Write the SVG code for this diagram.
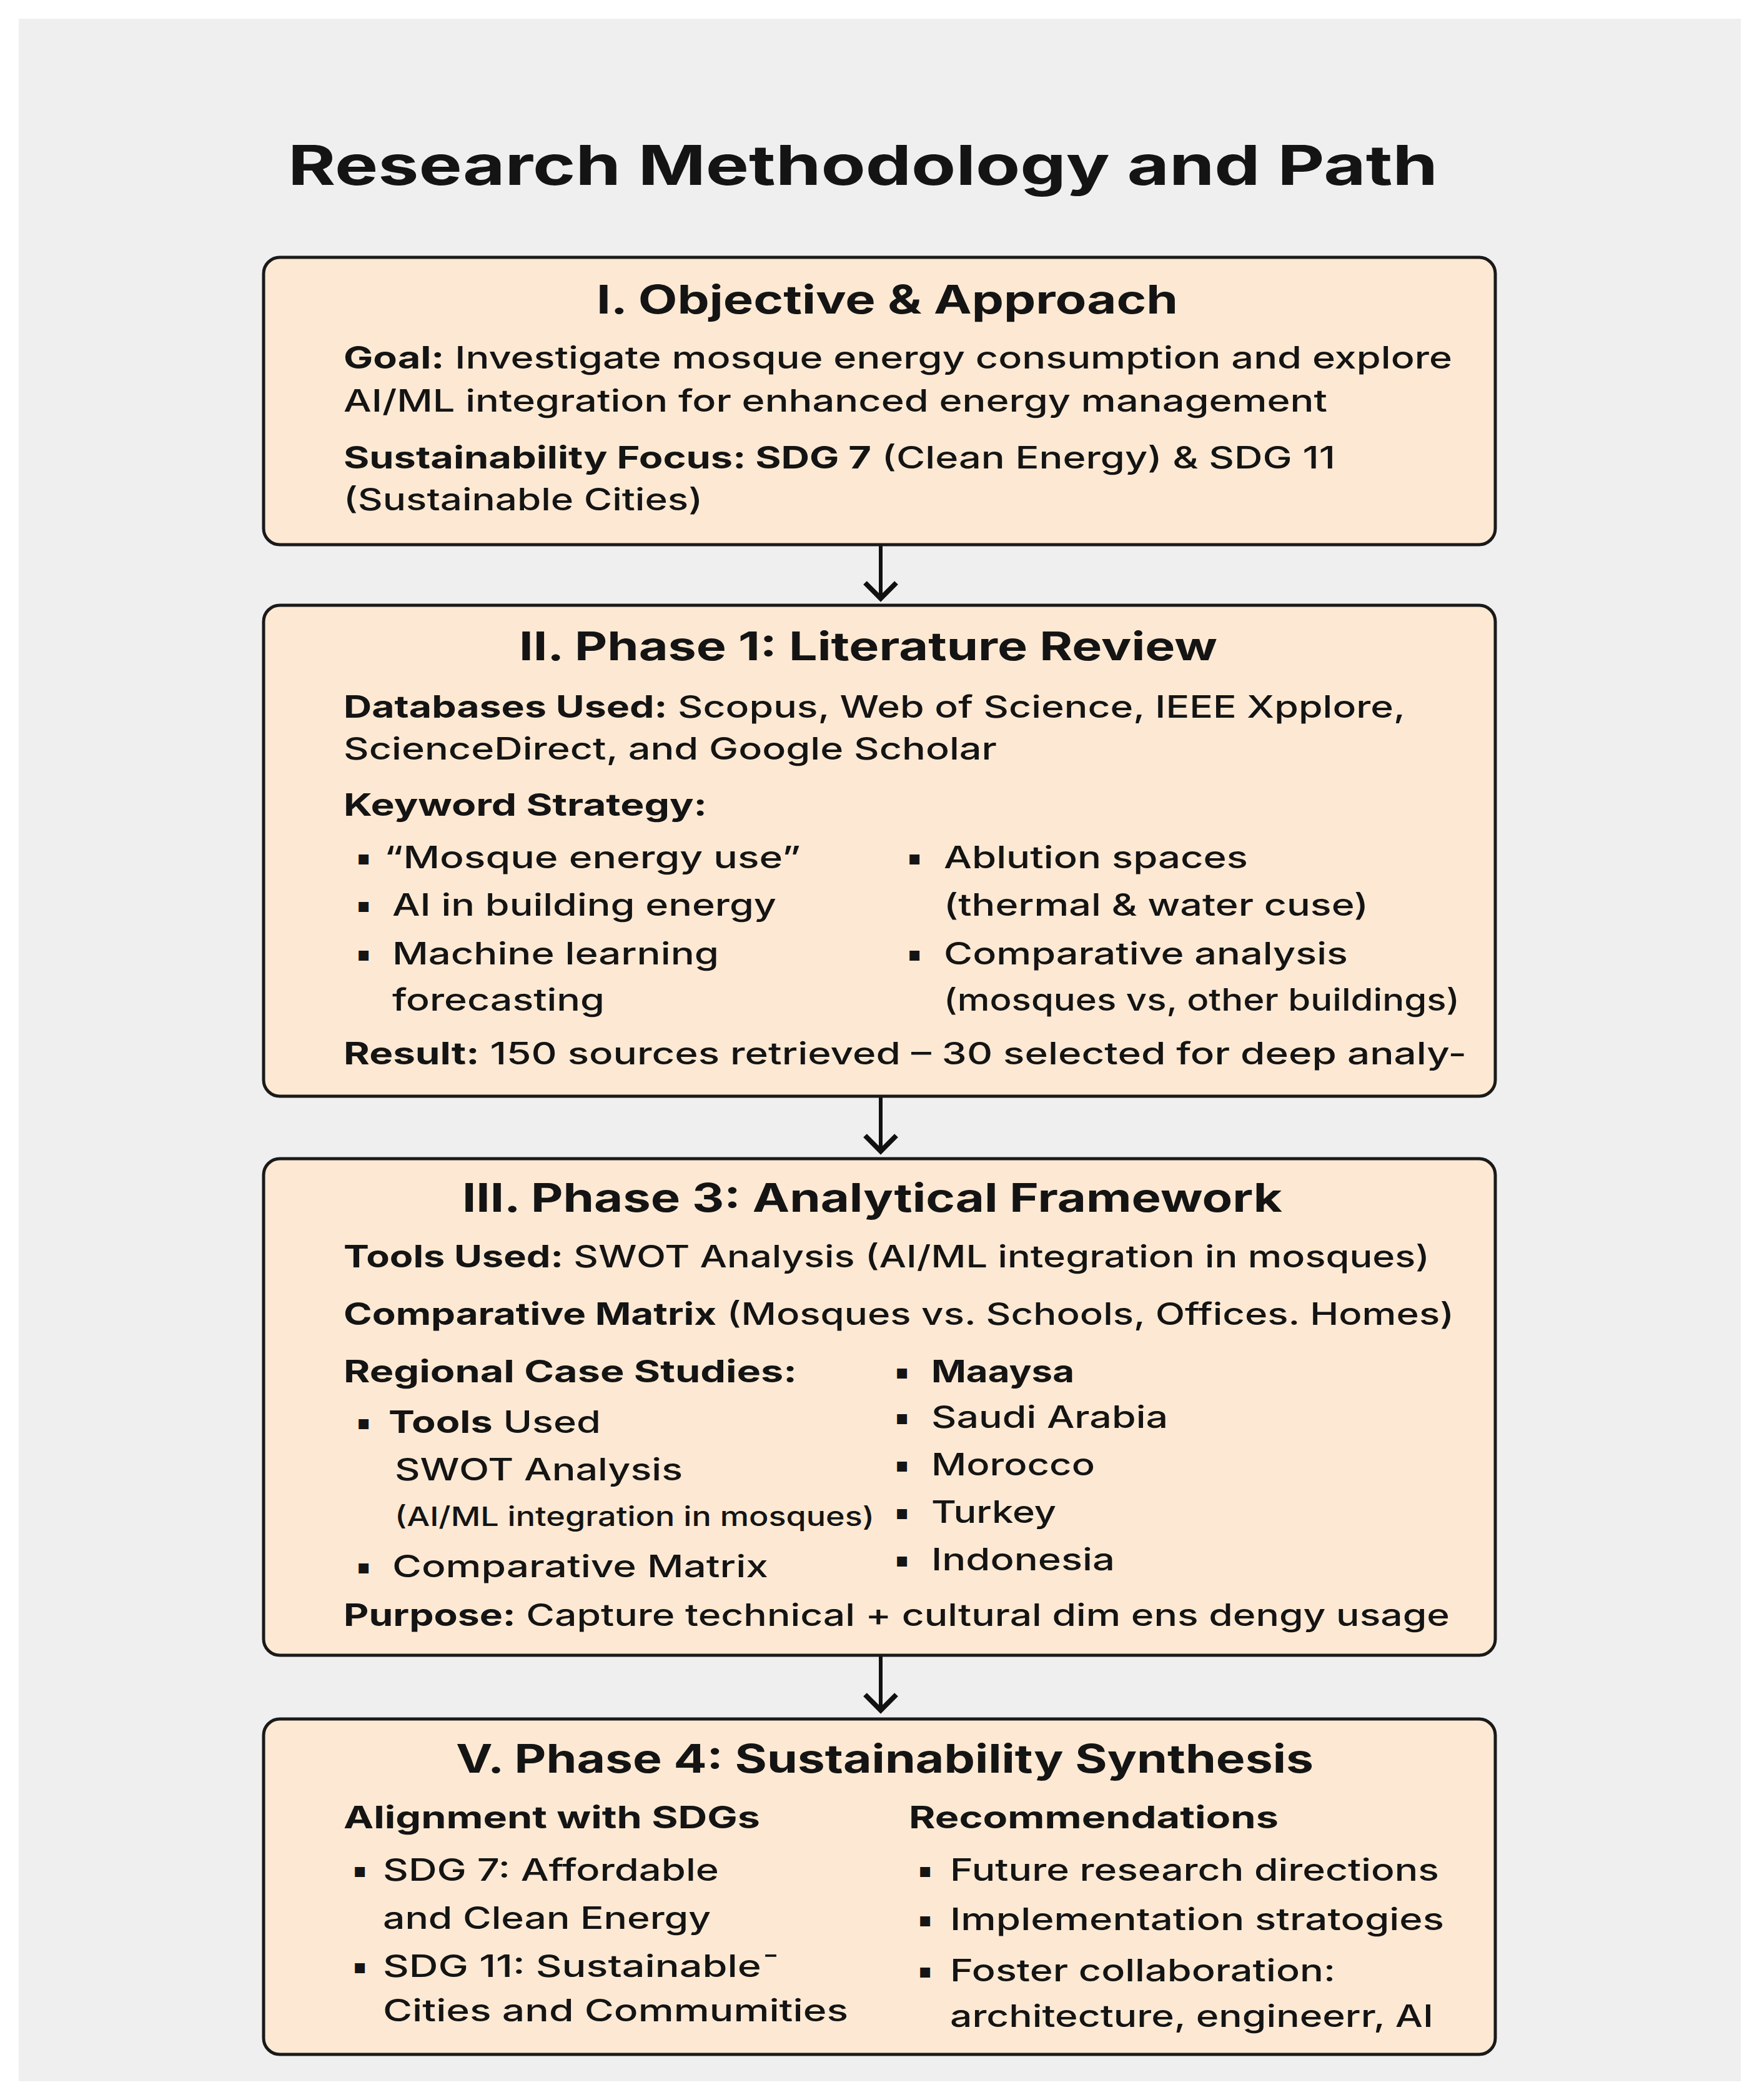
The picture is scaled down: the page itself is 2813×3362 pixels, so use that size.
<svg xmlns="http://www.w3.org/2000/svg" width="2813" height="3362" viewBox="0 0 2813 3362">
<style>
text{font-family:Inter,"Liberation Sans",sans-serif;fill:#141414;}
.t{font-size:88px;font-weight:700;}
.h{font-size:63px;font-weight:700;}
.b{font-size:49px;font-weight:500;}
.s{font-size:43px;font-weight:500;}
.k{font-weight:700;}
.bu{font-family:"DejaVu Sans",sans-serif;font-size:32px;text-anchor:middle;}
.box{fill:#fde9d3;stroke:#1a1a1a;stroke-width:5;}
.ln{stroke:#111;stroke-width:6;fill:none;}
.hd{stroke:#111;stroke-width:8;fill:none;stroke-linecap:butt;stroke-linejoin:miter;}
</style>
<rect x="0" y="0" width="2813" height="3362" fill="#ffffff"/>
<rect x="30" y="30" width="2757" height="3302" fill="#efefef"/>
<text class="t" x="461" y="296" textLength="1841" lengthAdjust="spacingAndGlyphs">Research Methodology and Path</text>

<g id="connectors">
<line class="ln" x1="1410" y1="872" x2="1410" y2="955"/>
<polyline class="hd" points="1385,933 1410,958 1435,933"/>
<line class="ln" x1="1410" y1="1755" x2="1410" y2="1840"/>
<polyline class="hd" points="1385,1818 1410,1843 1435,1818"/>
<line class="ln" x1="1410" y1="2650" x2="1410" y2="2735"/>
<polyline class="hd" points="1385,2713 1410,2738 1435,2713"/>
</g>

<g id="node-objective">
<rect class="box" x="422" y="412" width="1972" height="460" rx="26"/>
<text class="h" x="955" y="502" textLength="931" lengthAdjust="spacingAndGlyphs">I. Objective &amp; Approach</text>
<text class="b" x="550" y="590" textLength="1775" lengthAdjust="spacingAndGlyphs"><tspan class="k">Goal:</tspan> Investigate mosque energy consumption and explore</text>
<text class="b" x="550" y="659" textLength="1575" lengthAdjust="spacingAndGlyphs">AI/ML integration for enhanced energy management</text>
<text class="b" x="550" y="750" textLength="1588" lengthAdjust="spacingAndGlyphs"><tspan class="k">Sustainability Focus: SDG 7</tspan> (Clean Energy) &amp; SDG 11</text>
<text class="b" x="550" y="817" textLength="575" lengthAdjust="spacingAndGlyphs">(Sustainable Cities)</text>
</g>

<g id="node-phase1">
<rect class="box" x="422" y="969" width="1972" height="786" rx="26"/>
<text class="h" x="831" y="1057" textLength="1118" lengthAdjust="spacingAndGlyphs">II. Phase 1: Literature Review</text>
<text class="b" x="550" y="1149" textLength="1700" lengthAdjust="spacingAndGlyphs"><tspan class="k">Databases Used:</tspan> Scopus, Web of Science, IEEE Xpplore,</text>
<text class="b" x="550" y="1216" textLength="1046" lengthAdjust="spacingAndGlyphs">ScienceDirect, and Google Scholar</text>
<text class="b k" x="550" y="1306" textLength="582" lengthAdjust="spacingAndGlyphs">Keyword Strategy:</text>
<text class="bu" x="582" y="1384">▪</text>
<text class="b" x="615" y="1390" textLength="667" lengthAdjust="spacingAndGlyphs">“Mosque energy use”</text>
<text class="bu" x="582" y="1460">▪</text>
<text class="b" x="628" y="1466" textLength="615" lengthAdjust="spacingAndGlyphs">AI in building energy</text>
<text class="bu" x="582" y="1538">▪</text>
<text class="b" x="628" y="1544" textLength="523" lengthAdjust="spacingAndGlyphs">Machine learning</text>
<text class="b" x="628" y="1618" textLength="340" lengthAdjust="spacingAndGlyphs">forecasting</text>
<text class="bu" x="1464" y="1384">▪</text>
<text class="b" x="1511" y="1390" textLength="487" lengthAdjust="spacingAndGlyphs">Ablution spaces</text>
<text class="b" x="1511" y="1466" textLength="680" lengthAdjust="spacingAndGlyphs">(thermal &amp; water cuse)</text>
<text class="bu" x="1464" y="1538">▪</text>
<text class="b" x="1511" y="1544" textLength="647" lengthAdjust="spacingAndGlyphs">Comparative analysis</text>
<text class="b" x="1511" y="1618" textLength="826" lengthAdjust="spacingAndGlyphs">(mosques vs, other buildings)</text>
<text class="b" x="550" y="1704" textLength="1798" lengthAdjust="spacingAndGlyphs"><tspan class="k">Result:</tspan> 150  sources retrieved – 30 selected for deep analy-</text>
</g>

<g id="node-phase3">
<rect class="box" x="422" y="1855" width="1972" height="795" rx="26"/>
<text class="h" x="740" y="1940" textLength="1313" lengthAdjust="spacingAndGlyphs">III. Phase 3: Analytical Framework</text>
<text class="b" x="550" y="2029" textLength="1739" lengthAdjust="spacingAndGlyphs"><tspan class="k">Tools Used:</tspan> SWOT Analysis (AI/ML integration in mosques)</text>
<text class="b" x="550" y="2121" textLength="1778" lengthAdjust="spacingAndGlyphs"><tspan class="k">Comparative Matrix</tspan> (Mosques vs. Schools, Offices. Homes)</text>
<text class="b k" x="550" y="2213" textLength="726" lengthAdjust="spacingAndGlyphs">Regional Case Studies:</text>
<text class="bu" x="582" y="2288">▪</text>
<text class="b" x="622" y="2294" textLength="340" lengthAdjust="spacingAndGlyphs"><tspan class="k">Tools</tspan> Used</text>
<text class="b" x="632" y="2370" textLength="461" lengthAdjust="spacingAndGlyphs">SWOT Analysis</text>
<text class="s" x="632" y="2443" textLength="768" lengthAdjust="spacingAndGlyphs">(AI/ML integration in mosques)</text>
<text class="bu" x="582" y="2519">▪</text>
<text class="b" x="628" y="2525" textLength="602" lengthAdjust="spacingAndGlyphs">Comparative Matrix</text>
<text class="bu" x="1444" y="2207">▪</text>
<text class="b k" x="1491" y="2213" textLength="229" lengthAdjust="spacingAndGlyphs">Maaysa</text>
<text class="bu" x="1444" y="2280">▪</text>
<text class="b" x="1491" y="2286" textLength="379" lengthAdjust="spacingAndGlyphs">Saudi Arabia</text>
<text class="bu" x="1444" y="2356">▪</text>
<text class="b" x="1491" y="2362" textLength="262" lengthAdjust="spacingAndGlyphs">Morocco</text>
<text class="bu" x="1444" y="2432">▪</text>
<text class="b" x="1491" y="2438" textLength="200" lengthAdjust="spacingAndGlyphs">Turkey</text>
<text class="bu" x="1444" y="2508">▪</text>
<text class="b" x="1491" y="2514" textLength="294" lengthAdjust="spacingAndGlyphs">Indonesia</text>
<text class="b" x="550" y="2603" textLength="1771" lengthAdjust="spacingAndGlyphs"><tspan class="k">Purpose:</tspan> Capture technical + cultural dim ens dengy usage</text>
</g>

<g id="node-phase4">
<rect class="box" x="422" y="2752" width="1972" height="537" rx="26"/>
<text class="h" x="730" y="2838" textLength="1373" lengthAdjust="spacingAndGlyphs">V. Phase 4: Sustainability Synthesis</text>
<text class="b k" x="550" y="2927" textLength="667" lengthAdjust="spacingAndGlyphs">Alignment with SDGs</text>
<text class="b k" x="1455" y="2927" textLength="592" lengthAdjust="spacingAndGlyphs">Recommendations</text>
<text class="bu" x="576" y="3005">▪</text>
<text class="b" x="613" y="3011" textLength="538" lengthAdjust="spacingAndGlyphs">SDG 7: Affordable</text>
<text class="b" x="613" y="3088" textLength="525" lengthAdjust="spacingAndGlyphs">and Clean Energy</text>
<text class="bu" x="576" y="3159">▪</text>
<text class="b" x="613" y="3165" textLength="636" lengthAdjust="spacingAndGlyphs">SDG 11: Sustainable¯</text>
<text class="b" x="613" y="3236" textLength="745" lengthAdjust="spacingAndGlyphs">Cities and Commumities</text>
<text class="bu" x="1481" y="3005">▪</text>
<text class="b" x="1521" y="3011" textLength="783" lengthAdjust="spacingAndGlyphs">Future research directions</text>
<text class="bu" x="1481" y="3084">▪</text>
<text class="b" x="1521" y="3090" textLength="791" lengthAdjust="spacingAndGlyphs">Implementation stratogies</text>
<text class="bu" x="1481" y="3166">▪</text>
<text class="b" x="1521" y="3172" textLength="617" lengthAdjust="spacingAndGlyphs">Foster collaboration:</text>
<text class="b" x="1521" y="3245" textLength="774" lengthAdjust="spacingAndGlyphs">architecture, engineerr, AI</text>
</g>
</svg>
